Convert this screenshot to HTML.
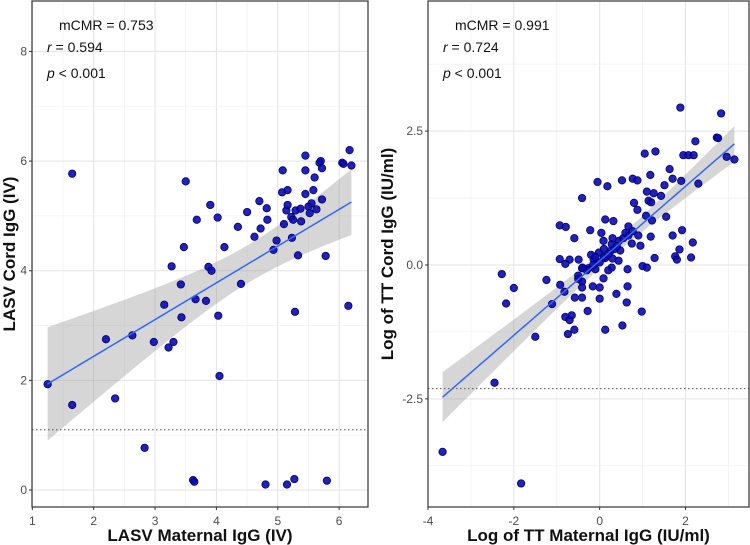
<!DOCTYPE html>
<html><head><meta charset="utf-8"><style>
html,body{margin:0;padding:0;background:#fff;}
svg{display:block;font-family:"Liberation Sans",Arial,sans-serif;}
</style></head><body>
<svg id="chart" width="750" height="545" viewBox="0 0 750 545"></svg>
<script>
// ---- Left panel data (LASV) ----
const lasvMaternal = [1.65,3.5,1.25,1.65,2.2,2.35,2.63,2.83,2.98,3.15,3.22,3.27,3.3,3.42,3.43,3.47,3.62,3.64,3.66,3.68,3.83,3.87,3.9,3.92,4.02,4.03,4.05,4.13,4.35,4.4,4.5,4.62,4.7,4.72,4.8,4.82,4.83,4.93,4.98,5.07,5.08,5.1,5.14,5.15,5.16,5.16,5.22,5.23,5.25,5.27,5.28,5.29,5.33,5.37,5.38,5.45,5.45,5.45,5.5,5.52,5.55,5.58,5.6,5.63,5.68,5.7,5.72,5.72,5.78,5.8,6.05,6.07,6.15,6.17,6.2];
const lasvCord = [5.77,5.63,1.93,1.55,2.75,1.67,2.82,0.77,2.7,3.38,2.6,4.08,2.7,3.75,3.15,4.43,0.18,0.15,3.48,4.93,3.45,4.07,5.2,4.0,4.97,3.18,2.08,4.43,4.8,3.76,5.07,4.62,5.27,4.77,0.1,5.14,4.93,4.38,4.55,5.43,5.83,4.85,5.1,0.1,5.2,5.47,4.98,4.6,4.93,0.2,3.25,5.1,4.28,5.13,4.9,6.1,5.83,5.4,5.17,5.05,5.23,5.47,5.7,5.12,5.97,6.0,5.3,5.87,4.27,0.17,5.97,5.95,3.36,6.2,5.92];
const lasvXTicks = [1,2,3,4,5,6];
const lasvYTicks = [0,2,4,6,8];
const lasvCutoff = 1.1;
const lasvStats = ["mCMR = 0.753","r = 0.594","p < 0.001"];

// ---- Right panel data (TT) ----
const ttMaternal = [1.88,2.83,2.73,2.76,2.23,1.05,1.3,1.95,2.07,2.19,2.96,3.14,1.63,1.18,1.7,1.9,2.3,-0.05,0.18,0.52,0.77,0.88,-0.41,1.1,1.26,1.43,1.51,1.14,1.2,0.8,0.88,1.08,1.22,1.55,0.13,0.32,-0.93,-0.79,-0.59,-0.22,0.04,0.67,0.77,0.9,0.67,1.19,1.92,1.7,2.17,1.86,0.75,0.95,0.48,0.09,0.28,0.25,0.44,-0.2,-0.14,-0.02,0.13,0.3,-0.93,-0.49,-0.7,-0.8,1.28,1.76,1.8,2.13,1.0,1.1,-0.41,-0.26,-0.1,0.28,0.65,0.09,-0.41,-0.5,-1.24,-2.28,-2.0,-2.18,-0.92,-0.82,-0.41,-0.16,0.0,0.65,-0.58,-0.41,0.0,0.39,0.63,-1.11,-0.28,0.98,-0.8,-0.7,-0.65,-0.59,-0.74,0.13,0.53,-1.5,-2.45,-3.66,-1.83,-0.3,-0.15,0.0,0.1,0.2,0.35,0.45,0.55,0.6,-0.5,-0.4,0.2,0.3,0.4,0.1,-0.1];
const ttCord = [2.94,2.83,2.38,2.37,2.31,2.08,2.12,2.05,2.05,2.05,2.02,1.97,1.79,1.68,1.61,1.57,1.52,1.55,1.47,1.58,1.61,1.58,1.25,1.37,1.34,1.29,1.49,1.2,1.17,1.16,1.03,0.92,0.83,0.9,0.85,0.82,0.74,0.71,0.5,0.65,0.6,0.72,0.63,0.55,0.55,0.53,0.65,0.55,0.42,0.29,0.4,0.36,0.27,0.45,0.39,0.26,0.08,0.19,0.1,0.23,0.13,0.12,0.11,0.1,0.1,0.02,0.13,0.16,0.1,0.14,-0.02,-0.05,-0.06,-0.06,-0.08,-0.05,-0.08,-0.25,-0.31,-0.26,-0.28,-0.17,-0.43,-0.72,-0.37,-0.5,-0.42,-0.4,-0.42,-0.4,-0.61,-0.61,-0.63,-0.54,-0.7,-0.73,-0.86,-0.87,-0.97,-1.03,-0.94,-1.21,-1.29,-1.21,-1.13,-1.34,-2.2,-3.49,-4.08,-0.1,0.0,0.05,0.15,0.2,0.3,0.45,0.5,0.6,-0.2,-0.05,-0.1,0.5,0.35,0.3,0.15];
const ttXTicks = [-4,-2,0,2];
const ttYTicks = [-2.5,0,2.5];
const ttCutoff = -2.31;
const ttStats = ["mCMR = 0.991","r = 0.724","p < 0.001"];

const NS = "http://www.w3.org/2000/svg";
const svg = document.getElementById('chart');
function mk(tag, attrs, parent){
  const e = document.createElementNS(NS, tag);
  for (const k in attrs) e.setAttribute(k, attrs[k]);
  (parent||svg).appendChild(e); return e;
}

function panel(cfg){
  const g = mk('g',{});
  
  
  const sx = v => cfg.px0 + (v - cfg.xd0) / (cfg.xd1 - cfg.xd0) * (cfg.px1 - cfg.px0);
  const sy = v => cfg.py1 - (v - cfg.yd0) / (cfg.yd1 - cfg.yd0) * (cfg.py1 - cfg.py0);
  const xs = cfg.xTicks, ys = cfg.yTicks;
  const xstep = xs[1]-xs[0], ystep = ys[1]-ys[0];
  for (let v = xs[0]-xstep; v <= cfg.xd1; v += xstep/2){
    if (v < cfg.xd0) continue;
    const major = Math.abs(((v - xs[0]) / xstep) - Math.round((v - xs[0]) / xstep)) < 1e-6;
    const l = mk('line',{x1:sx(v),x2:sx(v),y1:cfg.py0,y2:cfg.py1,stroke:major?'#e3e3e3':'#f2f2f2','stroke-width':major?1:0.8},g);
    
    
  }
  for (let v = ys[0]-ystep; v <= cfg.yd1; v += ystep/2){
    if (v < cfg.yd0) continue;
    const major = Math.abs(((v - ys[0]) / ystep) - Math.round((v - ys[0]) / ystep)) < 1e-6;
    const l = mk('line',{x1:cfg.px0,x2:cfg.px1,y1:sy(v),y2:sy(v),stroke:major?'#e3e3e3':'#f2f2f2','stroke-width':major?1:0.8},g);
    
    
  }
  const X = cfg.x, Y = cfg.y, n = X.length;
  const mx = X.reduce((a,b)=>a+b,0)/n, my = Y.reduce((a,b)=>a+b,0)/n;
  let sxx=0, sxy=0;
  for (let i=0;i<n;i++){ sxx += (X[i]-mx)**2; sxy += (X[i]-mx)*(Y[i]-my); }
  const b = sxy/sxx, a = my - b*mx;
  let sse=0; for (let i=0;i<n;i++) sse += (Y[i]-a-b*X[i])**2;
  const s = Math.sqrt(sse/(n-2)), t = 1.99;
  const xmin = Math.min(...X), xmax = Math.max(...X);
  const up=[], lo=[], ln=[];
  for (let k=0;k<=60;k++){
    const xv = xmin + (xmax-xmin)*k/60;
    const yh = a + b*xv;
    const se = s*Math.sqrt(1/n + (xv-mx)**2/sxx);
    up.push(sx(xv)+','+sy(yh+t*se));
    lo.unshift(sx(xv)+','+sy(yh-t*se));
    ln.push(sx(xv)+','+sy(yh));
  }
  const band = mk('polygon',{points:up.concat(lo).join(' '),fill:'#999','fill-opacity':0.4},g);
  
  
  const cl = mk('line',{x1:cfg.px0,x2:cfg.px1,y1:sy(cfg.cutoff),y2:sy(cfg.cutoff),stroke:'#555','stroke-width':1,'stroke-dasharray':'1.5,2.5'},g);
  
  
  for (let i=0;i<n;i++){
    const c = mk('circle',{cx:sx(X[i]),cy:sy(Y[i]),r:3.7,fill:'#0a0ab4',stroke:'#00006a','stroke-width':0.8,'fill-opacity':0.9},g);
    
    
  }
  const rl = mk('polyline',{points:ln.join(' '),fill:'none',stroke:'#3366ff','stroke-width':1.5},g);
  
  
  const br = mk('rect',{x:cfg.px0,y:cfg.py0,width:cfg.px1-cfg.px0,height:cfg.py1-cfg.py0,fill:'none',stroke:'#333','stroke-width':1.2},g);
  
  
  xs.forEach(v=>{
    mk('line',{x1:sx(v),x2:sx(v),y1:cfg.py1,y2:cfg.py1+3,stroke:'#333'},g);
    const tx = mk('text',{x:sx(v),y:cfg.py1+18,'text-anchor':'middle','font-size':12,fill:'#4d4d4d'},g);
    tx.textContent = v;
    
    
  });
  ys.forEach(v=>{
    mk('line',{x1:cfg.px0-3,x2:cfg.px0,y1:sy(v),y2:sy(v),stroke:'#333'},g);
    const ty = mk('text',{x:cfg.px0-5,y:sy(v)+4,'text-anchor':'end','font-size':12,fill:'#4d4d4d'},g);
    ty.textContent = (cfg.dec ? v.toFixed(1) : v);
    
    
  });
  const xt = mk('text',{x:(cfg.px0+cfg.px1)/2,y:541,'text-anchor':'middle','font-size':17,'font-weight':'bold',fill:'#111'},g);
  xt.textContent = cfg.xTitle;
  
  
  const yt = mk('text',{x:0,y:0,'text-anchor':'middle','font-size':17,'font-weight':'bold',fill:'#111',transform:`translate(${cfg.ytx},${(cfg.py0+cfg.py1)/2}) rotate(-90)`},g);
  yt.textContent = cfg.yTitle;
  
  
  const st = cfg.stats;
  const t1 = mk('text',{x:cfg.px0+27,y:30,'font-size':14,fill:'#111'},g);
  t1.textContent = st[0];
  
  
  const t2 = mk('text',{x:cfg.px0+15,y:52,'font-size':14,fill:'#111'},g);
  t2.innerHTML = '<tspan font-style="italic">'+st[1].split(' ')[0]+'</tspan> '+st[1].split(' ').slice(1).join(' ');
  
  
  const t3 = mk('text',{x:cfg.px0+15,y:78,'font-size':14,fill:'#111'},g);
  t3.innerHTML = '<tspan font-style="italic">'+st[2].split(' ')[0]+'</tspan> '+st[2].split(' ').slice(1).join(' ');
  
  
}

panel({name:'lasv-panel',x:lasvMaternal,y:lasvCord,xTicks:lasvXTicks,yTicks:lasvYTicks,cutoff:lasvCutoff,stats:lasvStats,
  px0:32,px1:368,py0:1,py1:507,xd0:0.995,xd1:6.47,yd0:-0.31,yd1:8.92,dec:false,
  xTitle:'LASV Maternal IgG (IV)',yTitle:'LASV Cord IgG (IV)',ytx:15});
panel({name:'tt-panel',x:ttMaternal,y:ttCord,xTicks:ttXTicks,yTicks:ttYTicks,cutoff:ttCutoff,stats:ttStats,
  px0:428,px1:749,py0:1,py1:507,xd0:-4,xd1:3.48,yd0:-4.52,yd1:4.93,dec:true,
  xTitle:'Log of TT Maternal IgG (IU/ml)',yTitle:'Log of TT Cord IgG (IU/ml)',ytx:393});
</script>
</body></html>
